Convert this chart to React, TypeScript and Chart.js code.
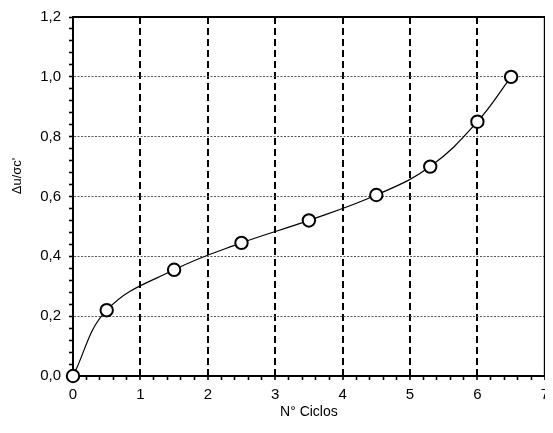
import React, { useEffect, useRef } from "react";
import { Chart, registerables } from "chart.js";

Chart.register(...registerables);

const cycles = [0, 0.5, 1.5, 2.5, 3.5, 4.5, 5.3, 6.0, 6.5];
const poreRatio = [0, 0.22, 0.355, 0.445, 0.52, 0.605, 0.7, 0.85, 1.0];
const xTitle = "N° Ciclos";
const yTitle = "Δu/σc'";

const FONT = "'Liberation Sans', Arial, sans-serif";

const isMultiple = (v: number, step: number) =>
  Math.abs(v / step - Math.round(v / step)) < 1e-6;

const frameAndTitle = {
  id: "frameAndTitle",
  beforeDatasetsDraw(chart: any) {
    const { ctx, chartArea } = chart;
    ctx.save();
    ctx.strokeStyle = "#000";
    ctx.lineWidth = 2;
    ctx.setLineDash([]);
    ctx.strokeRect(chartArea.left, chartArea.top, chartArea.right - chartArea.left, chartArea.bottom - chartArea.top);
    ctx.restore();
  },
  afterDraw(chart: any) {
    const { ctx } = chart;
    ctx.save();
    ctx.translate(17.5, 176);
    ctx.rotate(-Math.PI / 2);
    ctx.fillStyle = "#000";
    ctx.font = `13px ${FONT}`;
    ctx.textAlign = "center";
    ctx.textBaseline = "middle";
    ctx.fillText(yTitle, 0, 0);
    ctx.restore();
  },
};

export default function App() {
  const ref = useRef<HTMLCanvasElement | null>(null);

  useEffect(() => {
    if (!ref.current) return;
    const chart = new Chart(ref.current, {
      type: "line",
      data: {
        datasets: [
          {
            data: cycles.map((x, i) => ({ x, y: poreRatio[i] })),
            borderColor: "#000",
            borderWidth: 1.2,
            tension: 0.4,
            pointRadius: 6.2,
            pointBorderWidth: 2,
            pointBackgroundColor: "#fff",
            pointBorderColor: "#000",
            clip: false as any,
          },
        ],
      },
      options: {
        animation: false,
        responsive: false,
        maintainAspectRatio: false,
        layout: { padding: { top: 15, right: 6, left: 0, bottom: 0 } },
        plugins: { legend: { display: false }, tooltip: { enabled: false } },
        scales: {
          x: {
            type: "linear",
            min: 0,
            max: 7,
            afterFit: (s: any) => {
              s.height = 57;
              s.paddingLeft = 0;
              s.paddingRight = 0;
            },
            ticks: {
              stepSize: 0.2,
              autoSkip: false,
              maxRotation: 0,
              padding: 6,
              color: "#000",
              font: { family: FONT, size: 15 },
              callback: (v: any) => (isMultiple(Number(v), 1) ? String(Math.round(Number(v))) : ""),
            },
            grid: {
              color: (c: any) => {
                const v = c.tick ? c.tick.value : 0;
                return isMultiple(v, 1) && v > 0.5 && v < 6.5 ? "#000" : "rgba(0,0,0,0)";
              },
              lineWidth: (c: any) => {
                const v = c.tick ? c.tick.value : 0;
                return isMultiple(v, 1) ? 2 : 1;
              },
              tickColor: "#000",
              tickWidth: 1.6,
              tickLength: 4,
              tickBorderDash: [],
            } as any,
            border: { display: true, color: "#000", width: 2, dash: [7, 4] },
            title: {
              display: true,
              text: xTitle,
              color: "#000",
              font: { family: FONT, size: 14 },
              padding: { top: 0, bottom: 12 },
            },
          },
          y: {
            type: "linear",
            min: 0,
            max: 1.2,
            afterFit: (s: any) => {
              s.width = 73;
            },
            ticks: {
              stepSize: 0.04,
              autoSkip: false,
              padding: 8,
              color: "#000",
              font: { family: FONT, size: 15 },
              callback: (v: any) =>
                isMultiple(Number(v), 0.2) ? Number(v).toFixed(1).replace(".", ",") : "",
            },
            grid: {
              color: (c: any) => {
                const v = c.tick ? c.tick.value : 0;
                return isMultiple(v, 0.2) && v > 0.1 && v < 1.1 ? "#555" : "rgba(0,0,0,0)";
              },
              lineWidth: 1,
              tickColor: "#000",
              tickWidth: 1.6,
              tickLength: 4,
              tickBorderDash: [],
            } as any,
            border: { display: true, color: "#000", width: 2, dash: [2, 1.5] },
          },
        },
      },
      plugins: [frameAndTitle],
    } as any);
    return () => chart.destroy();
  }, []);

  return (
    <div style={{ margin: -8, width: 553, height: 433 }}>
      <canvas ref={ref} width={553} height={433} style={{ display: "block", width: 553, height: 433 }} />
    </div>
  );
}
